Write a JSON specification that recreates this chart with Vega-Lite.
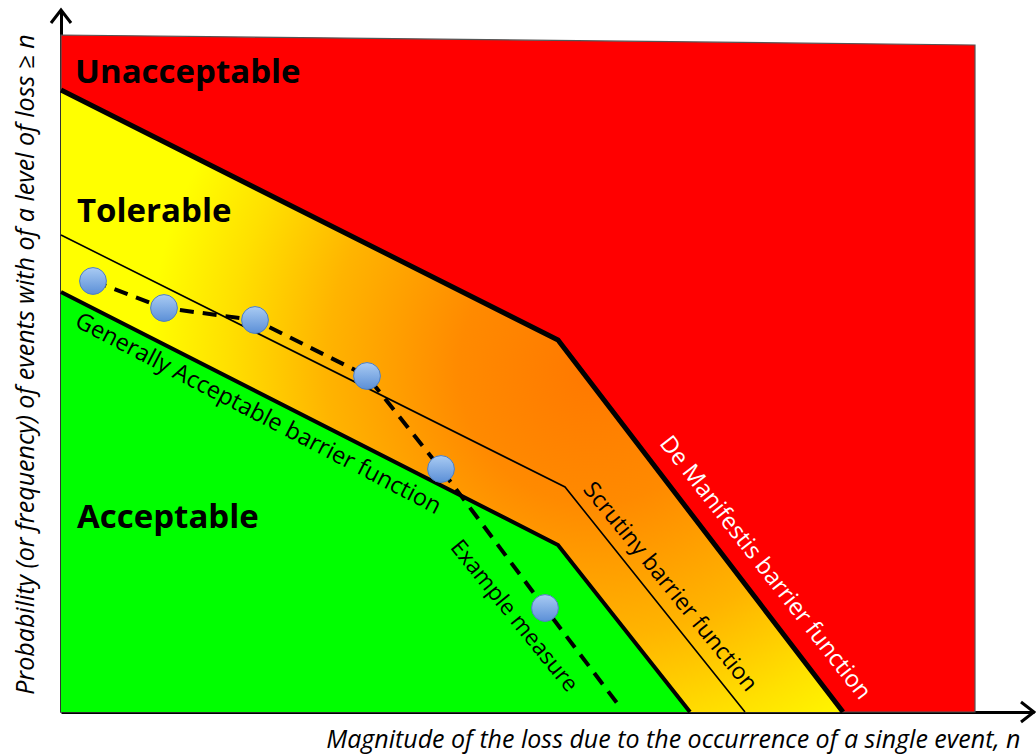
{
  "$schema": "https://vega.github.io/schema/vega-lite/v6.json",
  "width": 973,
  "height": 702,
  "autosize": {"type": "none"},
  "padding": {"left": 61, "top": 10, "right": 2, "bottom": 42},
  "background": "white",
  "config": {"view": {"stroke": null}, "font": "Open Sans"},
  "datasets": {
    "bands": [
      {"zone": "Unacceptable", "x": 0, "y": 677, "y0": 0},
      {"zone": "Unacceptable", "x": 914, "y": 667, "y0": 0},
      {"zone": "Tolerable", "x": 0, "y": 622, "y0": 420},
      {"zone": "Tolerable", "x": 497, "y": 372, "y0": 167},
      {"zone": "Tolerable", "x": 629, "y": 200, "y0": 0},
      {"zone": "Tolerable", "x": 782, "y": 0, "y0": 0},
      {"zone": "Acceptable", "x": 0, "y": 420, "y0": 0},
      {"zone": "Acceptable", "x": 497, "y": 167, "y0": 0},
      {"zone": "Acceptable", "x": 629, "y": 0, "y0": 0}
    ],
    "barriers": [
      {"barrier": "De Manifestis", "x": 0, "y": 622},
      {"barrier": "De Manifestis", "x": 497, "y": 372},
      {"barrier": "De Manifestis", "x": 782, "y": 0},
      {"barrier": "Scrutiny", "x": 0, "y": 477},
      {"barrier": "Scrutiny", "x": 504, "y": 225},
      {"barrier": "Scrutiny", "x": 684, "y": 0},
      {"barrier": "Generally Acceptable", "x": 0, "y": 420},
      {"barrier": "Generally Acceptable", "x": 497, "y": 167},
      {"barrier": "Generally Acceptable", "x": 629, "y": 0}
    ],
    "measure": [
      {"i": 1, "x": 32, "y": 431, "observed": true},
      {"i": 2, "x": 103, "y": 404, "observed": true},
      {"i": 3, "x": 194, "y": 392, "observed": true},
      {"i": 4, "x": 306, "y": 336, "observed": true},
      {"i": 5, "x": 380, "y": 243, "observed": true},
      {"i": 6, "x": 484, "y": 104, "observed": true},
      {"i": 7, "x": 559, "y": 5, "observed": false}
    ],
    "zoneLabels": [
      {"text": "Unacceptable", "x": 14, "y": 629},
      {"text": "Tolerable", "x": 16, "y": 490},
      {"text": "Acceptable", "x": 16, "y": 184}
    ],
    "lineLabels": [
      {"text": "Generally Acceptable barrier function", "x": 197, "y": 298},
      {"text": "Example measure", "x": 453, "y": 96},
      {"text": "Scrutiny barrier function", "x": 609, "y": 125},
      {"text": "De Manifestis barrier function", "x": 704, "y": 144}
    ],
    "arrows": [
      {"axis": "x", "x": 973, "y": 0},
      {"axis": "y", "x": 0, "y": 702}
    ]
  },
  "encoding": {
    "x": {
      "field": "x", "type": "quantitative",
      "scale": {"domain": [0, 973], "nice": false, "zero": false},
      "axis": {
        "title": "Magnitude of the loss due to the occurrence of a single event, n",
        "domain": true, "domainColor": "black", "domainWidth": 3,
        "ticks": false, "labels": false, "grid": false,
        "titleFont": "Open Sans", "titleFontStyle": "italic", "titleFontWeight": "normal",
        "titleFontSize": 25, "titleColor": "black",
        "titleAnchor": null, "titleAlign": "right", "titleBaseline": "alphabetic",
        "titleX": 959, "titleY": 35
      }
    },
    "y": {
      "field": "y", "type": "quantitative",
      "scale": {"domain": [0, 702], "nice": false, "zero": false},
      "axis": {
        "title": "Probability (or frequency) of events with of a level of loss ≥ n",
        "domain": true, "domainColor": "black", "domainWidth": 3,
        "ticks": false, "labels": false, "grid": false,
        "titleFont": "Open Sans", "titleFontStyle": "italic", "titleFontWeight": "normal",
        "titleFontSize": 25, "titleColor": "black",
        "titleAnchor": null, "titleAngle": -90, "titleAlign": "center", "titleBaseline": "alphabetic",
        "titleX": -28, "titleY": 354
      }
    }
  },
  "layer": [
    {
      "data": {"name": "bands"},
      "transform": [{"filter": "datum.zone === 'Unacceptable'"}],
      "mark": {"type": "area", "fill": "#ff0000", "stroke": "#555555", "strokeWidth": 1.2},
      "encoding": {"y2": {"field": "y0"}}
    },
    {
      "data": {"name": "bands"},
      "transform": [{"filter": "datum.zone === 'Tolerable'"}],
      "mark": {
        "type": "area",
        "fill": {
          "gradient": "radial",
          "x1": 0.68, "y1": 0.46, "r1": 0,
          "x2": 0.68, "y2": 0.46, "r2": 0.57,
          "stops": [
            {"offset": 0, "color": "#ff7800"},
            {"offset": 0.3, "color": "#ff8a00"},
            {"offset": 0.6, "color": "#ffb400"},
            {"offset": 0.82, "color": "#ffe000"},
            {"offset": 1, "color": "#ffff00"}
          ]
        }
      },
      "encoding": {"y2": {"field": "y0"}}
    },
    {
      "data": {"name": "bands"},
      "transform": [{"filter": "datum.zone === 'Acceptable'"}],
      "mark": {"type": "area", "fill": "#00ff00"},
      "encoding": {"y2": {"field": "y0"}}
    },
    {
      "data": {"name": "barriers"},
      "transform": [{"filter": "datum.barrier === 'Scrutiny'"}],
      "mark": {"type": "line", "color": "black", "strokeWidth": 1.6},
      "encoding": {}
    },
    {
      "data": {"name": "barriers"},
      "transform": [{"filter": "datum.barrier === 'De Manifestis'"}],
      "mark": {"type": "line", "color": "black", "strokeWidth": 5},
      "encoding": {}
    },
    {
      "data": {"name": "barriers"},
      "transform": [{"filter": "datum.barrier === 'Generally Acceptable'"}],
      "mark": {"type": "line", "color": "black", "strokeWidth": 4},
      "encoding": {}
    },
    {
      "data": {"name": "measure"},
      "mark": {"type": "line", "color": "black", "strokeWidth": 4, "strokeDash": [14, 9]},
      "encoding": {"order": {"field": "i", "type": "quantitative"}}
    },
    {
      "data": {"name": "measure"},
      "transform": [{"filter": "datum.observed"}],
      "mark": {
        "type": "point", "shape": "circle", "size": 720, "filled": true, "opacity": 1,
        "fill": {
          "gradient": "linear", "x1": 0.5, "y1": 0, "x2": 0.5, "y2": 1,
          "stops": [
            {"offset": 0, "color": "#a9cbf3"},
            {"offset": 1, "color": "#5b8fd7"}
          ]
        },
        "stroke": "#4f7fc0", "strokeWidth": 1
      },
      "encoding": {}
    },
    {
      "data": {"name": "zoneLabels"},
      "mark": {"type": "text", "align": "left", "baseline": "alphabetic", "font": "Open Sans", "fontSize": 33, "fontWeight": "bold", "color": "black"},
      "encoding": {"text": {"field": "text"}}
    },
    {
      "data": {"name": "lineLabels"},
      "transform": [{"filter": "datum.text === 'Generally Acceptable barrier function'"}],
      "mark": {"type": "text", "align": "center", "baseline": "middle", "angle": 27.5, "font": "Open Sans", "fontSize": 23.5, "color": "black"},
      "encoding": {"text": {"field": "text"}}
    },
    {
      "data": {"name": "lineLabels"},
      "transform": [{"filter": "datum.text === 'Example measure'"}],
      "mark": {"type": "text", "align": "center", "baseline": "middle", "angle": 51, "font": "Open Sans", "fontSize": 22.5, "color": "black"},
      "encoding": {"text": {"field": "text"}}
    },
    {
      "data": {"name": "lineLabels"},
      "transform": [{"filter": "datum.text === 'Scrutiny barrier function'"}],
      "mark": {"type": "text", "align": "center", "baseline": "middle", "angle": 51, "font": "Open Sans", "fontSize": 23, "color": "black"},
      "encoding": {"text": {"field": "text"}}
    },
    {
      "data": {"name": "lineLabels"},
      "transform": [{"filter": "datum.text === 'De Manifestis barrier function'"}],
      "mark": {"type": "text", "align": "center", "baseline": "middle", "angle": 52, "font": "Open Sans", "fontSize": 23.5, "color": "white"},
      "encoding": {"text": {"field": "text"}}
    },
    {
      "data": {"name": "arrows"},
      "transform": [{"filter": "datum.axis === 'x'"}],
      "mark": {"type": "point", "shape": "M -1.3 -1 L 0 0 L -1.3 1", "size": 400, "filled": false, "stroke": "black", "strokeWidth": 3, "opacity": 1},
      "encoding": {}
    },
    {
      "data": {"name": "arrows"},
      "transform": [{"filter": "datum.axis === 'y'"}],
      "mark": {"type": "point", "shape": "M -1 1.3 L 0 0 L 1 1.3", "size": 400, "filled": false, "stroke": "black", "strokeWidth": 3, "opacity": 1},
      "encoding": {}
    }
  ]
}
